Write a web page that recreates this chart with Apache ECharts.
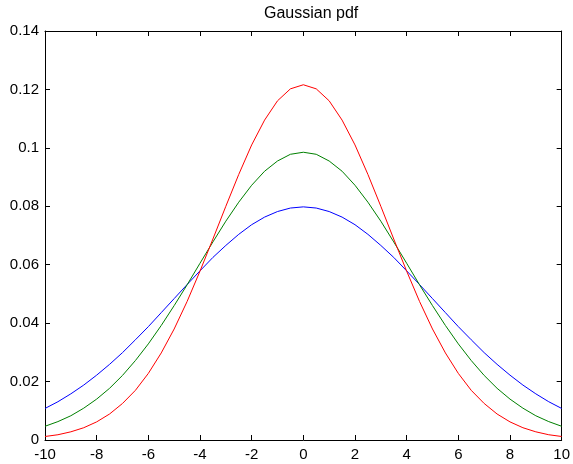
<!DOCTYPE html>
<html>
<head>
<meta charset="utf-8">
<script src="https://cdn.jsdelivr.net/npm/echarts@6/dist/echarts.min.js"></script>
<style>
  html, body { margin: 0; padding: 0; background: #fff; }
  #main { width: 573px; height: 464px; }
</style>
</head>
<body>
<div id="main"></div>
<script>
// x samples, step 0.5
var xs = [-10,-9.5,-9,-8.5,-8,-7.5,-7,-6.5,-6,-5.5,-5,-4.5,-4,-3.5,-3,-2.5,-2,-1.5,-1,-0.5,
          0,0.5,1,1.5,2,2.5,3,3.5,4,4.5,5,5.5,6,6.5,7,7.5,8,8.5,9,9.5,10];

// widest curve (blue)
var blueVals = [0.0108,0.0131,0.0158,0.0188,0.0222,0.0259,0.0299,0.0343,0.0388,0.0436,0.0484,
                0.0532,0.0579,0.0625,0.0666,0.0704,0.0737,0.0763,0.0782,0.0794,0.0798,
                0.0794,0.0782,0.0763,0.0737,0.0704,0.0666,0.0625,0.0579,0.0532,0.0484,
                0.0436,0.0388,0.0343,0.0299,0.0259,0.0222,0.0188,0.0158,0.0131,0.0108];

// middle curve (green)
var greenVals = [0.0047,0.0063,0.0083,0.0109,0.0140,0.0177,0.0221,0.0272,0.0329,0.0392,0.0460,
                 0.0531,0.0605,0.0678,0.0749,0.0814,0.0872,0.0920,0.0955,0.0978,0.0985,
                 0.0978,0.0955,0.0920,0.0872,0.0814,0.0749,0.0678,0.0605,0.0531,0.0460,
                 0.0392,0.0329,0.0272,0.0221,0.0177,0.0140,0.0109,0.0083,0.0063,0.0047];

// narrow curve (red)
var redVals = [0.0012,0.0018,0.0028,0.0042,0.0062,0.0089,0.0125,0.0170,0.0228,0.0298,0.0380,
               0.0474,0.0578,0.0688,0.0800,0.0909,0.1010,0.1095,0.1161,0.1202,0.1216,
               0.1202,0.1161,0.1095,0.1010,0.0909,0.0800,0.0688,0.0578,0.0474,0.0380,
               0.0298,0.0228,0.0170,0.0125,0.0089,0.0062,0.0042,0.0028,0.0018,0.0012];

function pairs(vals) {
  var out = [];
  for (var i = 0; i < xs.length; i++) out.push([xs[i], vals[i]]);
  return out;
}

var font = 'Liberation Sans, Arial, sans-serif';
var axisLine = { show: true, onZero: false, lineStyle: { color: '#000', width: 1 } };
var tick = { show: true, inside: true, length: 5, lineStyle: { color: '#000' } };

var chart = echarts.init(document.getElementById('main'));
chart.setOption({
  backgroundColor: '#fff',
  animation: false,
  title: {
    text: 'Gaussian pdf',
    left: 259,
    top: 1,
    textStyle: { fontFamily: font, fontSize: 16, fontWeight: 'normal', color: '#000' }
  },
  grid: { left: 45, right: 7, top: 31, bottom: 24 },
  xAxis: [
    {
      type: 'value', min: -10, max: 10, interval: 2,
      axisLine: axisLine, axisTick: tick, splitLine: { show: false },
      axisLabel: { fontFamily: font, fontSize: 15, color: '#000', margin: 7 }
    },
    {
      type: 'value', position: 'top', min: -10, max: 10, interval: 2,
      axisLine: axisLine, axisTick: tick, splitLine: { show: false },
      axisLabel: { show: false }
    }
  ],
  yAxis: [
    {
      type: 'value', min: 0, max: 0.14, interval: 0.02,
      axisLine: axisLine, axisTick: tick, splitLine: { show: false },
      axisLabel: { fontFamily: font, fontSize: 15, color: '#000', margin: 6 }
    },
    {
      type: 'value', position: 'right', min: 0, max: 0.14, interval: 0.02,
      axisLine: axisLine, axisTick: tick, splitLine: { show: false },
      axisLabel: { show: false }
    }
  ],
  series: [
    { type: 'line', data: pairs(blueVals), symbol: 'none', lineStyle: { color: '#0000ff', width: 1 } },
    { type: 'line', data: pairs(greenVals), symbol: 'none', lineStyle: { color: '#008000', width: 1 } },
    { type: 'line', data: pairs(redVals), symbol: 'none', lineStyle: { color: '#ff0000', width: 1 } }
  ]
});
</script>
</body>
</html>
